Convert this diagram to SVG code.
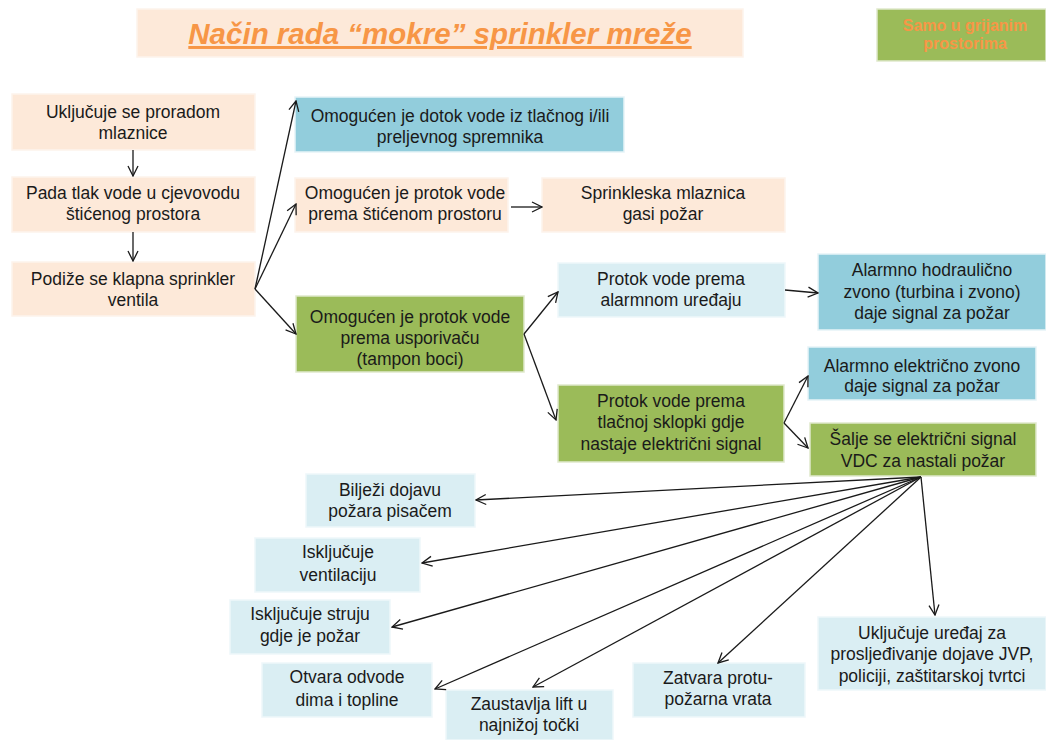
<svg xmlns="http://www.w3.org/2000/svg" width="1046" height="740" viewBox="0 0 1046 740">
<defs>
<style>
.t{font-family:"Liberation Sans",Arial,sans-serif;font-size:17.5px;fill:#1a1a1a;text-anchor:middle}
.peach{fill:#FDE9D9;stroke:#fdf3ec;stroke-width:1.5}
.blue{fill:#92CDDC;stroke:#e6f3f7;stroke-width:1.5}
.lblue{fill:#DAEEF3;stroke:#eef7fa;stroke-width:1.5}
.green{fill:#9BBB59;stroke:#dfe9cc;stroke-width:1.5}
.c{stroke:#1a1a1a;stroke-width:1.3;fill:none;marker-end:url(#ah)}
</style>
<marker id="ah" viewBox="0 0 12 12" refX="11" refY="6" markerWidth="12" markerHeight="12" markerUnits="userSpaceOnUse" orient="auto">
<path d="M1,1 L11,6 L1,11" fill="none" stroke="#1a1a1a" stroke-width="1.3"/>
</marker>
</defs>
<rect width="1046" height="740" fill="#ffffff"/>

<g id="title">
<rect x="137" y="9" width="606" height="48" class="peach"/>
<text x="440" y="44" font-family="Liberation Sans,Arial,sans-serif" font-size="29.5" font-weight="bold" font-style="italic" fill="#F79646" text-anchor="middle" text-decoration="underline">Način rada “mokre” sprinkler mreže</text>
</g>

<g id="note">
<rect x="877" y="9" width="169" height="52" class="green"/>
<text x="965" y="31" font-family="Liberation Sans,Arial,sans-serif" font-size="16" font-weight="bold" fill="#F79646" text-anchor="middle">Samo u grijanim</text>
<text x="965" y="49" font-family="Liberation Sans,Arial,sans-serif" font-size="16" font-weight="bold" fill="#F79646" text-anchor="middle">prostorima</text>
</g>

<g id="n1"><rect x="12" y="94" width="243" height="56" class="peach"/>
<text class="t" x="133" y="118">Uključuje se proradom</text><text class="t" x="133" y="139">mlaznice</text></g>
<g id="n2"><rect x="12" y="177" width="243" height="55" class="peach"/>
<text class="t" x="133" y="199">Pada tlak vode u cjevovodu</text><text class="t" x="133" y="220">štićenog prostora</text></g>
<g id="n3"><rect x="12" y="262" width="243" height="54" class="peach"/>
<text class="t" x="133" y="285">Podiže se klapna sprinkler</text><text class="t" x="133" y="306">ventila</text></g>

<g id="n4"><rect x="295" y="97" width="329" height="55" class="blue"/>
<text class="t" x="460" y="122">Omogućen je dotok vode iz tlačnog i/ili</text><text class="t" x="460" y="143">preljevnog spremnika</text></g>
<g id="n5"><rect x="295" y="178" width="213" height="54" class="peach"/>
<text class="t" x="405" y="199">Omogućen je protok vode</text><text class="t" x="405" y="220">prema štićenom prostoru</text></g>
<g id="n6"><rect x="542" y="178" width="243" height="54" class="peach"/>
<text class="t" x="663" y="199">Sprinkleska mlaznica</text><text class="t" x="663" y="220">gasi požar</text></g>
<g id="n7"><rect x="296" y="296" width="228" height="76" class="green"/>
<text class="t" x="410" y="323">Omogućen je protok vode</text><text class="t" x="410" y="344">prema usporivaču</text><text class="t" x="410" y="365">(tampon boci)</text></g>
<g id="n8"><rect x="558" y="263" width="227" height="54" class="lblue"/>
<text class="t" x="671" y="285">Protok vode prema</text><text class="t" x="671" y="306">alarmnom uređaju</text></g>
<g id="n9"><rect x="818" y="254" width="228" height="76" class="blue"/>
<text class="t" x="932" y="276">Alarmno hodraulično</text><text class="t" x="932" y="298">zvono  (turbina i zvono)</text><text class="t" x="932" y="319">daje signal za požar</text></g>
<g id="n10"><rect x="558" y="385" width="226" height="77" class="green"/>
<text class="t" x="671" y="407">Protok vode prema</text><text class="t" x="671" y="428">tlačnoj sklopki  gdje</text><text class="t" x="671" y="450">nastaje električni signal</text></g>
<g id="n11"><rect x="808" y="347" width="228" height="53" class="blue"/>
<text class="t" x="922" y="372">Alarmno električno zvono</text><text class="t" x="922" y="392">daje signal za požar</text></g>
<g id="n12"><rect x="810" y="423" width="226" height="53" class="green"/>
<text class="t" x="923" y="445">Šalje se električni signal</text><text class="t" x="923" y="467">VDC za nastali požar</text></g>

<g id="n13"><rect x="306" y="474" width="169" height="53" class="lblue"/>
<text class="t" x="390" y="496">Bilježi dojavu</text><text class="t" x="390" y="517">požara pisačem</text></g>
<g id="n14"><rect x="255" y="538" width="165" height="54" class="lblue"/>
<text class="t" x="338" y="558">Isključuje</text><text class="t" x="338" y="581">ventilaciju</text></g>
<g id="n15"><rect x="230" y="600" width="160" height="54" class="lblue"/>
<text class="t" x="310" y="620">Isključuje struju</text><text class="t" x="310" y="642">gdje je požar</text></g>
<g id="n16"><rect x="262" y="663" width="170" height="54" class="lblue"/>
<text class="t" x="347" y="683">Otvara odvode</text><text class="t" x="347" y="706">dima i topline</text></g>
<g id="n17"><rect x="446" y="690" width="167" height="50" class="lblue"/>
<text class="t" x="529" y="710">Zaustavlja lift u</text><text class="t" x="529" y="731">najnižoj točki</text></g>
<g id="n18"><rect x="633" y="663" width="172" height="54" class="lblue"/>
<text class="t" x="718" y="684">Zatvara protu-</text><text class="t" x="718" y="705">požarna vrata</text></g>
<g id="n19"><rect x="818" y="617" width="228" height="73" class="lblue"/>
<text class="t" x="932" y="639">Uključuje uređaj za</text><text class="t" x="932" y="660">prosljeđivanje dojave JVP,</text><text class="t" x="932" y="682">policiji, zaštitarskoj tvrtci</text></g>

<g id="connectors">
<line class="c" x1="133" y1="150" x2="133" y2="176"/>
<line class="c" x1="133" y1="232" x2="133" y2="261"/>
<line class="c" x1="255" y1="289" x2="296" y2="101"/>
<line class="c" x1="255" y1="289" x2="296" y2="204"/>
<line class="c" x1="255" y1="289" x2="296" y2="334"/>
<line class="c" x1="511" y1="207" x2="542" y2="207"/>
<line class="c" x1="524" y1="334" x2="558" y2="292"/>
<line class="c" x1="524" y1="334" x2="556" y2="420"/>
<line class="c" x1="785" y1="290" x2="818" y2="293"/>
<line class="c" x1="784" y1="423" x2="808" y2="376"/>
<line class="c" x1="784" y1="423" x2="808" y2="448"/>
<line class="c" x1="921" y1="477" x2="476" y2="500"/>
<line class="c" x1="921" y1="477" x2="422" y2="563"/>
<line class="c" x1="921" y1="477" x2="392" y2="627"/>
<line class="c" x1="921" y1="477" x2="435" y2="689"/>
<line class="c" x1="921" y1="477" x2="533" y2="687"/>
<line class="c" x1="921" y1="477" x2="718" y2="663"/>
<line class="c" x1="921" y1="477" x2="935" y2="615"/>
</g>
</svg>
